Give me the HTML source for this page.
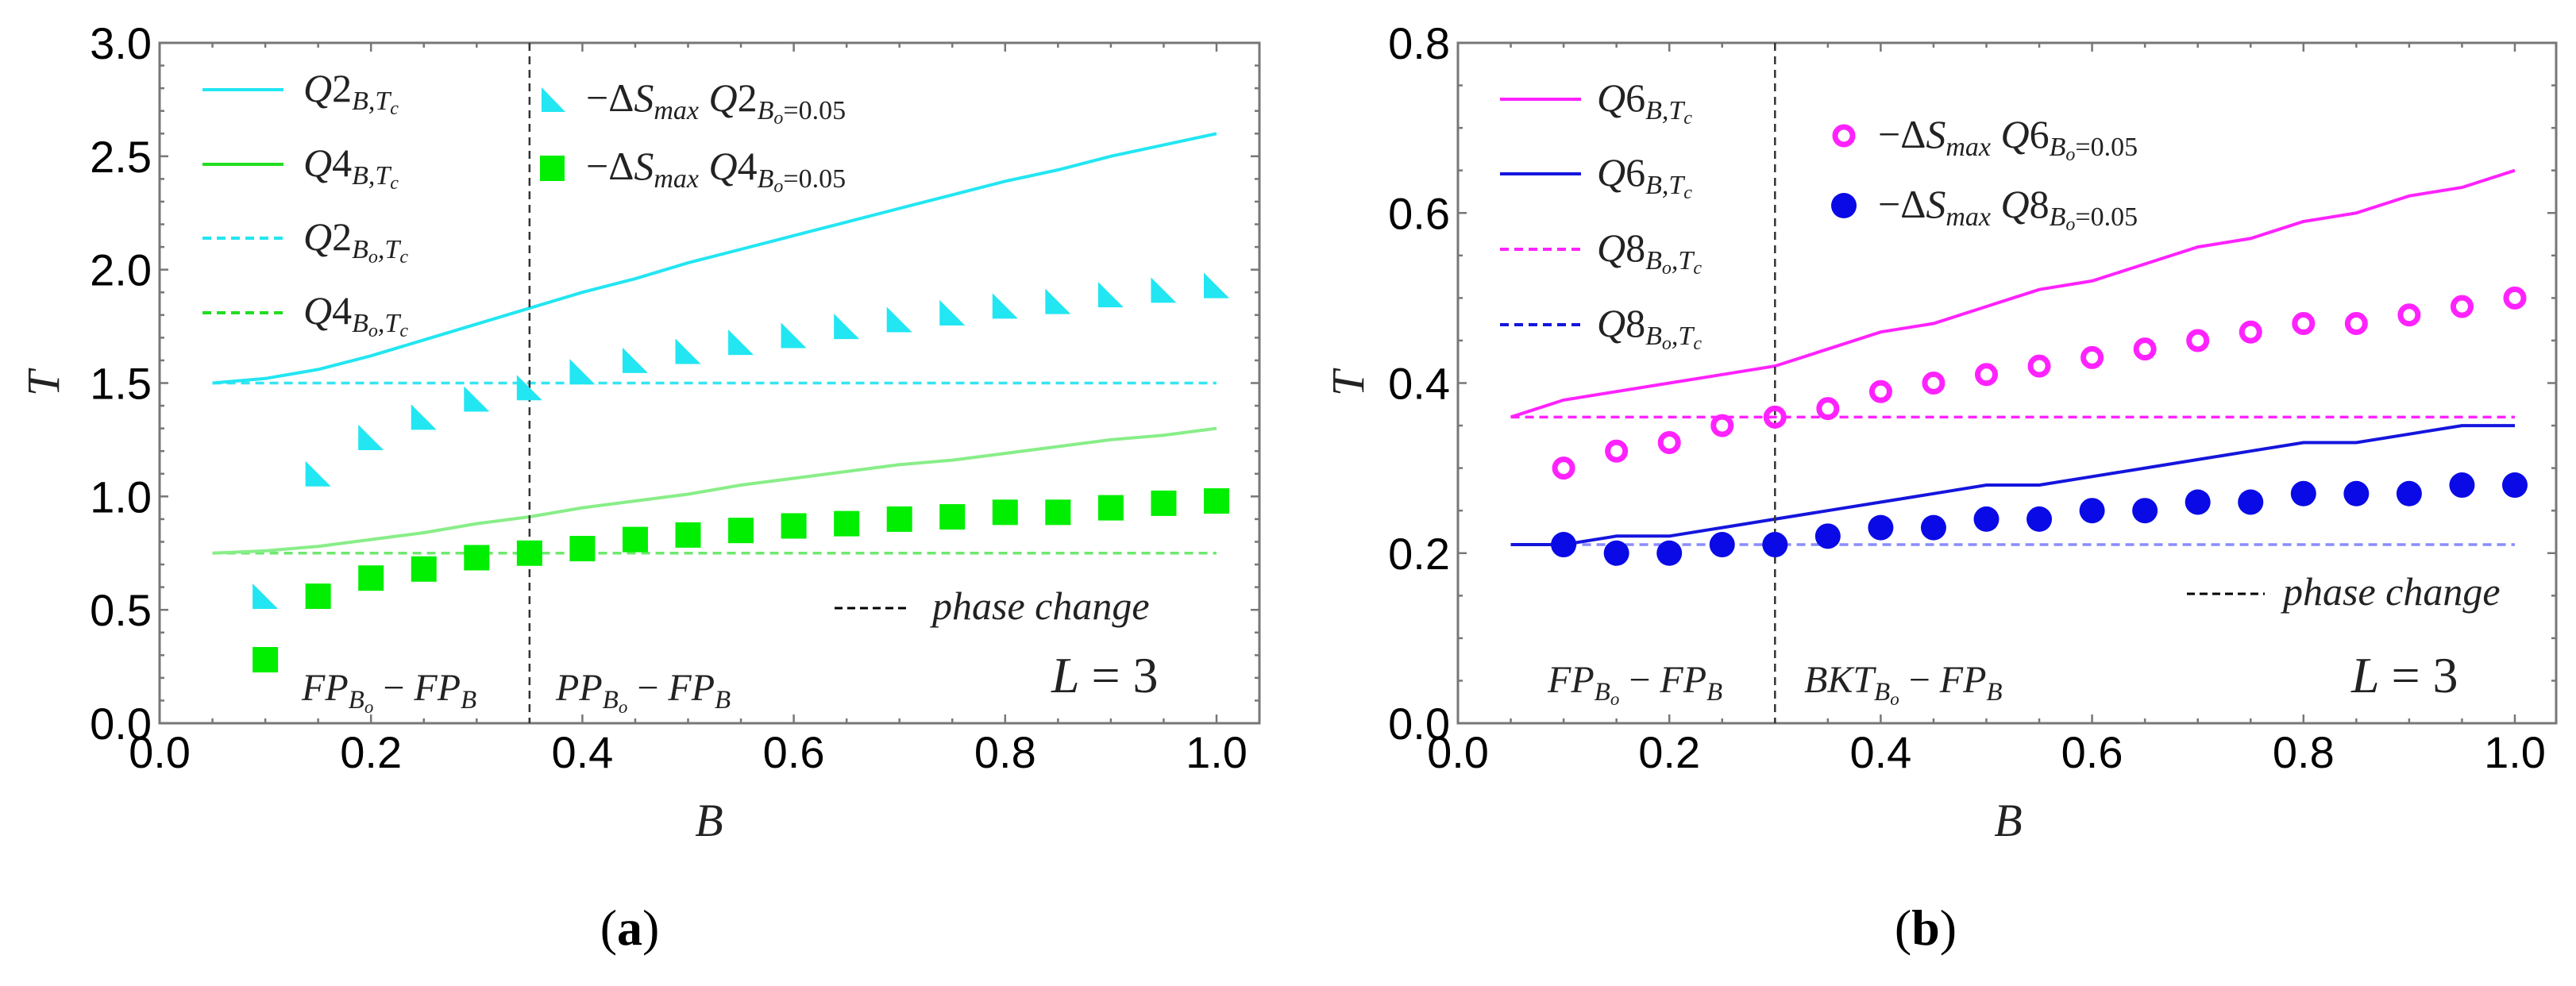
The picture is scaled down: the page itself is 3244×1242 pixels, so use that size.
<!DOCTYPE html>
<html><head><meta charset="utf-8"><style>
html,body{margin:0;padding:0;background:#fff;}
svg{display:block;}
.tk{font-family:"Liberation Sans",sans-serif;font-size:56px;fill:#000;}
.m{font-family:"Liberation Serif",serif;font-style:italic;fill:#222;}
.r{font-family:"Liberation Serif",serif;font-style:normal;}
</style></head><body>
<svg id="fig" width="3244" height="1242" viewBox="0 0 3244 1242" xmlns="http://www.w3.org/2000/svg">
<g id="pa"></g>
<g id="pb"></g>

<!-- Panel a static text -->
<text class="m" x="55" y="483" font-size="58" text-anchor="middle" dominant-baseline="central" transform="rotate(-90 55 483)">T</text>
<text class="m" x="893" y="1053" font-size="58" text-anchor="middle">B</text>
<text x="793" y="1190" font-size="64" text-anchor="middle" font-family="Liberation Serif, serif">(<tspan font-weight="bold">a</tspan>)</text>

<g>
<text class="m" x="382" y="128" font-size="50">Q<tspan class="r">2</tspan><tspan font-size="34" dy="10">B,T</tspan><tspan font-size="24" dy="6">c</tspan></text>
<text class="m" x="382" y="222" font-size="50">Q<tspan class="r">4</tspan><tspan font-size="34" dy="10">B,T</tspan><tspan font-size="24" dy="6">c</tspan></text>
<text class="m" x="382" y="315" font-size="50">Q<tspan class="r">2</tspan><tspan font-size="34" dy="10">B</tspan><tspan font-size="24" dy="6">o</tspan><tspan font-size="34" dy="-6">,T</tspan><tspan font-size="24" dy="6">c</tspan></text>
<text class="m" x="382" y="408" font-size="50">Q<tspan class="r">4</tspan><tspan font-size="34" dy="10">B</tspan><tspan font-size="24" dy="6">o</tspan><tspan font-size="34" dy="-6">,T</tspan><tspan font-size="24" dy="6">c</tspan></text>
<text class="m" x="738" y="140" font-size="50"><tspan class="r">−Δ</tspan>S<tspan font-size="34" dy="10">max</tspan><tspan dy="-10"> Q</tspan><tspan class="r">2</tspan><tspan font-size="34" dy="10">B</tspan><tspan font-size="24" dy="6">o</tspan><tspan class="r" font-size="34" dy="-6">=0.05</tspan></text>
<text class="m" x="738" y="226" font-size="50"><tspan class="r">−Δ</tspan>S<tspan font-size="34" dy="10">max</tspan><tspan dy="-10"> Q</tspan><tspan class="r">4</tspan><tspan font-size="34" dy="10">B</tspan><tspan font-size="24" dy="6">o</tspan><tspan class="r" font-size="34" dy="-6">=0.05</tspan></text>
<line x1="1051" y1="766" x2="1146" y2="766" stroke="#000" stroke-width="3" stroke-dasharray="10,6"/>
<text class="m" x="1174" y="780" font-size="50">phase change</text>
</g>
<text class="m" x="380" y="882" font-size="48" fill="#444">FP<tspan font-size="33" dy="10">B</tspan><tspan font-size="23" dy="6">o</tspan><tspan class="r" dy="-16"> − </tspan>FP<tspan font-size="33" dy="10">B</tspan></text>
<text class="m" x="700" y="882" font-size="48" fill="#444">PP<tspan font-size="33" dy="10">B</tspan><tspan font-size="23" dy="6">o</tspan><tspan class="r" dy="-16"> − </tspan>FP<tspan font-size="33" dy="10">B</tspan></text>
<text class="m" x="1324" y="872" font-size="64" fill="#222">L <tspan class="r">= 3</tspan></text>

<!-- Panel b static text -->
<text class="m" x="1698" y="483" font-size="58" text-anchor="middle" dominant-baseline="central" transform="rotate(-90 1698 483)">T</text>
<text class="m" x="2529" y="1053" font-size="58" text-anchor="middle">B</text>
<text x="2425" y="1190" font-size="64" text-anchor="middle" font-family="Liberation Serif, serif">(<tspan font-weight="bold">b</tspan>)</text>

<g>
<text class="m" x="2011" y="140" font-size="50">Q<tspan class="r">6</tspan><tspan font-size="34" dy="10">B,T</tspan><tspan font-size="24" dy="6">c</tspan></text>
<text class="m" x="2011" y="234" font-size="50">Q<tspan class="r">6</tspan><tspan font-size="34" dy="10">B,T</tspan><tspan font-size="24" dy="6">c</tspan></text>
<text class="m" x="2011" y="329" font-size="50">Q<tspan class="r">8</tspan><tspan font-size="34" dy="10">B</tspan><tspan font-size="24" dy="6">o</tspan><tspan font-size="34" dy="-6">,T</tspan><tspan font-size="24" dy="6">c</tspan></text>
<text class="m" x="2011" y="424" font-size="50">Q<tspan class="r">8</tspan><tspan font-size="34" dy="10">B</tspan><tspan font-size="24" dy="6">o</tspan><tspan font-size="34" dy="-6">,T</tspan><tspan font-size="24" dy="6">c</tspan></text>
<text class="m" x="2365" y="186" font-size="50"><tspan class="r">−Δ</tspan>S<tspan font-size="34" dy="10">max</tspan><tspan dy="-10"> Q</tspan><tspan class="r">6</tspan><tspan font-size="34" dy="10">B</tspan><tspan font-size="24" dy="6">o</tspan><tspan class="r" font-size="34" dy="-6">=0.05</tspan></text>
<text class="m" x="2365" y="274" font-size="50"><tspan class="r">−Δ</tspan>S<tspan font-size="34" dy="10">max</tspan><tspan dy="-10"> Q</tspan><tspan class="r">8</tspan><tspan font-size="34" dy="10">B</tspan><tspan font-size="24" dy="6">o</tspan><tspan class="r" font-size="34" dy="-6">=0.05</tspan></text>
<line x1="2754" y1="748" x2="2852" y2="748" stroke="#000" stroke-width="3" stroke-dasharray="10,6"/>
<text class="m" x="2875" y="762" font-size="50">phase change</text>
</g>
<text class="m" x="1949" y="872" font-size="48" fill="#444">FP<tspan font-size="33" dy="10">B</tspan><tspan font-size="23" dy="6">o</tspan><tspan class="r" dy="-16"> − </tspan>FP<tspan font-size="33" dy="10">B</tspan></text>
<text class="m" x="2272" y="872" font-size="48" fill="#444">BKT<tspan font-size="33" dy="10">B</tspan><tspan font-size="23" dy="6">o</tspan><tspan class="r" dy="-16"> − </tspan>FP<tspan font-size="33" dy="10">B</tspan></text>
<text class="m" x="2961" y="872" font-size="64" fill="#222">L <tspan class="r">= 3</tspan></text>
</svg>
<script>
// ---------- data ----------
const bLine = [0.05,0.1,0.15,0.2,0.25,0.3,0.35,0.4,0.45,0.5,0.55,0.6,0.65,0.7,0.75,0.8,0.85,0.9,0.95,1.0];
const bPts = [0.1,0.15,0.2,0.25,0.3,0.35,0.4,0.45,0.5,0.55,0.6,0.65,0.7,0.75,0.8,0.85,0.9,0.95,1.0];
const q2Line = [1.50,1.52,1.56,1.62,1.69,1.76,1.83,1.90,1.96,2.03,2.09,2.15,2.21,2.27,2.33,2.39,2.44,2.50,2.55,2.60];
const q4Line = [0.75,0.76,0.78,0.81,0.84,0.88,0.91,0.95,0.98,1.01,1.05,1.08,1.11,1.14,1.16,1.19,1.22,1.25,1.27,1.30];
const q2Pts = [0.56,1.10,1.26,1.35,1.43,1.48,1.55,1.60,1.64,1.68,1.71,1.75,1.78,1.81,1.84,1.86,1.89,1.91,1.93];
const q4Pts = [0.28,0.56,0.64,0.68,0.73,0.75,0.77,0.81,0.83,0.85,0.87,0.88,0.90,0.91,0.93,0.93,0.95,0.97,0.98];
const q2Base = 1.5, q4Base = 0.75, phaseA = 0.35;
const q6Line = [0.36,0.38,0.39,0.40,0.41,0.42,0.44,0.46,0.47,0.49,0.51,0.52,0.54,0.56,0.57,0.59,0.60,0.62,0.63,0.65];
const q8Line = [0.21,0.21,0.22,0.22,0.23,0.24,0.25,0.26,0.27,0.28,0.28,0.29,0.30,0.31,0.32,0.33,0.33,0.34,0.35,0.35];
const q6Pts = [0.30,0.32,0.33,0.35,0.36,0.37,0.39,0.40,0.41,0.42,0.43,0.44,0.45,0.46,0.47,0.47,0.48,0.49,0.50];
const q8Pts = [0.21,0.20,0.20,0.21,0.21,0.22,0.23,0.23,0.24,0.24,0.25,0.25,0.26,0.26,0.27,0.27,0.27,0.28,0.28];
const q6Base = 0.36, q8Base = 0.21, phaseB = 0.3;
const xTicks = ["0.0","0.2","0.4","0.6","0.8","1.0"];
const yTicksA = ["0.0","0.5","1.0","1.5","2.0","2.5","3.0"];
const yTicksB = ["0.0","0.2","0.4","0.6","0.8"];

const NS="http://www.w3.org/2000/svg";
function mk(parent,tag,attrs){const e=document.createElementNS(NS,tag);for(const k in attrs)e.setAttribute(k,attrs[k]);parent.appendChild(e);return e;}

function panel(g, L, R, x1px, yMax, yMinorStep, yMajorStep, yLabels){
  const T=54, Bt=911;
  const sx=v=>L+(x1px-L)*v;
  const sy=v=>Bt-(Bt-T)*v/yMax;
  for(let i=0;i*0.05<=1.2+1e-9;i++){
    const v=i*0.05, x=sx(v); if(x>R-2) break;
    const maj=(i%4===0), len=maj?11:6;
    const t1=mk(g,'line',{x1:x,y1:Bt,x2:x,y2:Bt-len,stroke:'#777','stroke-width':2.5});
    
    
    const t2=mk(g,'line',{x1:x,y1:T,x2:x,y2:T+len,stroke:'#777','stroke-width':2.5});
    
    
  }
  const nMinor=Math.round(yMax/yMinorStep), per=Math.round(yMajorStep/yMinorStep);
  for(let i=0;i<=nMinor;i++){
    const y=sy(i*yMinorStep), len=(i%per===0)?11:6;
    const t1=mk(g,'line',{x1:L,y1:y,x2:L+len,y2:y,stroke:'#777','stroke-width':2.5});
    
    
    const t2=mk(g,'line',{x1:R,y1:y,x2:R-len,y2:y,stroke:'#777','stroke-width':2.5});
    
    
  }
  xTicks.forEach(s=>{
    const t=mk(g,'text',{x:sx(parseFloat(s)),y:967,'text-anchor':'middle',class:'tk'});
    t.textContent=s;
    
    
  });
  yLabels.forEach(s=>{
    const t=mk(g,'text',{x:L-10,y:sy(parseFloat(s))+20,'text-anchor':'end',class:'tk'});
    t.textContent=s;
    
    
  });
  const f=mk(g,'rect',{x:L,y:T,width:R-L,height:Bt-T,fill:'none',stroke:'#777','stroke-width':3});
  
  
  return {sx,sy,T,Bt};
}
function line(g,ax,xs,ys,color,w,dash,name){
  const d=xs.map((x,i)=>(i?'L':'M')+ax.sx(x).toFixed(1)+','+ax.sy(ys[i]).toFixed(1)).join(' ');
  const p=mk(g,'path',{d:d,fill:'none',stroke:color,'stroke-width':w});
  if(dash)p.setAttribute('stroke-dasharray',dash);
  
  
}
function hline(g,ax,v,color,name){
  const p=mk(g,'line',{x1:ax.sx(0.05),x2:ax.sx(1.0),y1:ax.sy(v),y2:ax.sy(v),stroke:color,'stroke-width':3.5,'stroke-dasharray':'11,7'});
  
  
}
function vline(g,ax,v,name){
  const p=mk(g,'line',{x1:ax.sx(v),x2:ax.sx(v),y1:ax.T,y2:ax.Bt,stroke:'#333','stroke-width':2.5,'stroke-dasharray':'10,7'});
  
  
}

// ---------- Panel a ----------
const ga=document.getElementById('pa');
const A=panel(ga,201,1586,1532,3.0,0.1,0.5,yTicksA);
hline(ga,A,q2Base,'#33e6f0','q2-bo-dashed');
hline(ga,A,q4Base,'#6ee86e','q4-bo-dashed');
line(ga,A,bLine,q2Line,'#22e6f2',4,null,'q2-b-line');
line(ga,A,bLine,q4Line,'#88ee88',4,null,'q4-b-line');
vline(ga,A,phaseA,'phase-change-line-a');
bPts.forEach((b,i)=>{
  const x=A.sx(b), y=A.sy(q2Pts[i]), s=16;
  const p=mk(ga,'path',{d:`M${x-s},${y-s} L${x-s},${y+s} L${x+s},${y+s} Z`,fill:'#22e6f2'});
  
  
});
bPts.forEach((b,i)=>{
  const x=A.sx(b), y=A.sy(q4Pts[i]), s=16;
  const p=mk(ga,'rect',{x:x-s,y:y-s,width:2*s,height:2*s,fill:'#00ee00'});
  
  
});
[[113,'#22e6f2',null,'legend-q2-line'],[207,'#22dd22',null,'legend-q4-line'],[300,'#22e6f2','11,7','legend-q2-dashed'],[394,'#22dd22','11,7','legend-q4-dashed']].forEach(r=>{
  const l=mk(ga,'line',{x1:255,x2:357,y1:r[0],y2:r[0],stroke:r[1],'stroke-width':4});
  if(r[2])l.setAttribute('stroke-dasharray',r[2]);
  
  
});
{const p=mk(ga,'path',{d:'M682,110 L682,141 L712,141 Z',fill:'#22e6f2'});


const q=mk(ga,'rect',{x:680,y:196,width:31,height:32,fill:'#00ee00'});

}

// ---------- Panel b ----------
const gb=document.getElementById('pb');
const Bp=panel(gb,1836,3219,3167,0.8,0.05,0.2,yTicksB);
hline(gb,Bp,q6Base,'#ff22ff','q8-bo-magenta-dashed');
hline(gb,Bp,q8Base,'#8a8cff','q8-bo-blue-dashed');
line(gb,Bp,bLine,q6Line,'#ff22ff',4,null,'q6-magenta-line');
line(gb,Bp,bLine,q8Line,'#1515dd',4,null,'q6-blue-line');
vline(gb,Bp,phaseB,'phase-change-line-b');
bPts.forEach((b,i)=>{
  const c=mk(gb,'circle',{cx:Bp.sx(b),cy:Bp.sy(q6Pts[i]),r:11,fill:'none',stroke:'#ff22ff','stroke-width':7});
  
  
});
bPts.forEach((b,i)=>{
  const c=mk(gb,'circle',{cx:Bp.sx(b),cy:Bp.sy(q8Pts[i]),r:16,fill:'#0a0ae6'});
  
  
});
[[125,'#ff22ff',null,'legend-q6-magenta-line'],[219,'#1515dd',null,'legend-q6-blue-line'],[314,'#ff22ff','11,7','legend-q8-magenta-dashed'],[409,'#1515dd','11,7','legend-q8-blue-dashed']].forEach(r=>{
  const l=mk(gb,'line',{x1:1889,x2:1991,y1:r[0],y2:r[0],stroke:r[1],'stroke-width':4});
  if(r[2])l.setAttribute('stroke-dasharray',r[2]);
  
  
});
{const c=mk(gb,'circle',{cx:2322,cy:171,r:11,fill:'none',stroke:'#ff22ff','stroke-width':7});


const d=mk(gb,'circle',{cx:2322,cy:259,r:16,fill:'#0a0ae6'});

}
</script>
</body></html>
